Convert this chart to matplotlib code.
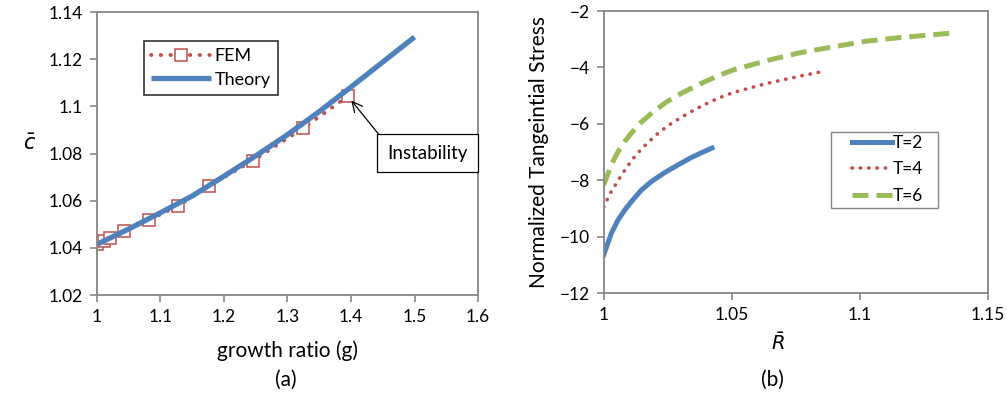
import numpy as np
import matplotlib.pyplot as plt
from matplotlib.patches import Rectangle

plt.rcParams['font.family'] = ['Lato', 'DejaVu Sans']
plt.rcParams['mathtext.fontset'] = 'dejavusans'

# (a) c-bar against growth ratio
g_theory = [1.0, 1.05, 1.1, 1.15, 1.2, 1.25, 1.3, 1.35, 1.4, 1.45, 1.5]
c_theory = [1.0415, 1.048, 1.0549, 1.062, 1.0704, 1.079, 1.088, 1.0978,
            1.1082, 1.1188, 1.1294]
g_fem = [1.0, 1.0105, 1.021, 1.043, 1.082, 1.127, 1.177, 1.245, 1.325, 1.395]
c_fem = [1.0418, 1.0428, 1.0443, 1.0471, 1.0518, 1.0577, 1.0664, 1.0769,
         1.0908, 1.1043]

# (b) normalized tangential stress against R-bar
r_t2 = [1.0, 1.003, 1.0056, 1.0082, 1.0108, 1.0147, 1.0186, 1.0238, 1.029,
        1.0337, 1.0376, 1.0423]
s_t2 = [-10.65, -9.88, -9.41, -9.06, -8.76, -8.35, -8.05, -7.73, -7.46,
        -7.22, -7.05, -6.86]
r_t4 = [1.0, 1.0013, 1.0027, 1.0043, 1.0059, 1.0071, 1.0088, 1.0105, 1.0125,
        1.0147, 1.0169, 1.019, 1.0212, 1.0238, 1.0264, 1.0285, 1.0337,
        1.0389, 1.0448, 1.0506, 1.0636, 1.0766, 1.0864]
s_t4 = [-8.96, -8.70, -8.44, -8.21, -7.97, -7.80, -7.57, -7.35, -7.12,
        -6.90, -6.70, -6.52, -6.34, -6.16, -5.99, -5.87, -5.59,
        -5.34, -5.09, -4.89, -4.57, -4.31, -4.13]
r_t6 = [1.0, 1.0017, 1.0036, 1.0056, 1.0082, 1.0108, 1.0142, 1.0194, 1.0246,
        1.0311, 1.0376, 1.0448, 1.0506, 1.0636, 1.0766, 1.0896, 1.1026,
        1.1157, 1.1287, 1.1352]
s_t6 = [-8.17, -7.76, -7.34, -6.99, -6.63, -6.33, -5.98, -5.57, -5.22,
        -4.88, -4.59, -4.29, -4.09, -3.76, -3.48, -3.27, -3.07,
        -2.94, -2.84, -2.79]

blue = '#4F81BD'
red = '#C0504D'
green = '#9BBB59'
gray = '#868686'

fig = plt.figure(figsize=(10.07, 4.01), dpi=100)
ax1 = fig.add_axes([0.0963, 0.2643, 0.3784, 0.7057])
ax2 = fig.add_axes([0.5995, 0.2693, 0.3812, 0.7032])

for ax in (ax1, ax2):
    for sp in ax.spines.values():
        sp.set_color(gray)
        sp.set_linewidth(1.3)
    ax.tick_params(direction='out', length=5, width=1.2, color=gray,
                   labelsize=12.5, pad=5)

# left panel
ax1.plot(g_fem, c_fem, linestyle=(0, (0.1, 2.4)), dash_capstyle='round',
         color=red, lw=2.8, marker='s', ms=8, mfc='white', mec=red, mew=1.1,
         label='FEM')
ax1.plot(g_theory, c_theory, color=blue, lw=3.8, solid_capstyle='butt',
         label='Theory')
ax1.set_xlim(1, 1.6)
ax1.set_ylim(1.02, 1.14)
ax1.set_xticks(np.arange(1, 1.61, 0.1))
ax1.set_xticklabels(['1', '1.1', '1.2', '1.3', '1.4', '1.5', '1.6'])
ax1.set_yticks(np.arange(1.02, 1.141, 0.02))
ax1.set_yticklabels(['1.02', '1.04', '1.06', '1.08', '1.1', '1.12', '1.14'])
ax1.set_xlabel('growth ratio (g)', fontsize=15, labelpad=11)
ax1.set_ylabel(r'$\bar{c}$', fontsize=15, rotation=0, labelpad=14)
leg1 = ax1.legend(loc='upper left', bbox_to_anchor=(0.123, 0.897),
                  borderaxespad=0, fancybox=False, fontsize=13,
                  handlelength=3.3, handletextpad=0.2, borderpad=0.4,
                  labelspacing=0.4)
leg1.get_frame().set_edgecolor('black')
leg1.get_frame().set_linewidth(1.2)

ax1.annotate('Instability', xy=(g_fem[-1], c_fem[-1]),
             xytext=(1.52, 1.0802), fontsize=13.5,
             ha='center', va='center',
             bbox=dict(boxstyle='square,pad=0.55', fc='white', ec='black',
                       lw=0.9),
             arrowprops=dict(arrowstyle='->', color='black', lw=0.9,
                             shrinkA=0, shrinkB=4, relpos=(0, 1),
                             mutation_scale=18))

# right panel
ax2.plot(r_t2, s_t2, color=blue, lw=3.6, label='T=2')
ax2.plot(r_t4, s_t4, color=red, lw=2.6, linestyle=(0, (0.1, 2.2)),
         dash_capstyle='round', label='T=4')
ax2.plot(r_t6, s_t6, color=green, lw=3.6, linestyle=(0, (3.2, 1.6)),
         label='T=6')
ax2.set_xlim(1, 1.15)
ax2.set_ylim(-12, -2)
ax2.set_xticks([1, 1.05, 1.1, 1.15])
ax2.set_xticklabels(['1', '1.05', '1.1', '1.15'])
ax2.set_yticks(np.arange(-12, -1, 2))
ax2.set_xlabel(r'$\bar{R}$', fontsize=14)
ax2.xaxis.set_label_coords(0.453, -0.135)
ax2.set_ylabel('Normalized Tangeintial Stress', fontsize=15, labelpad=8)

# legend frame drawn on its own so the side margins can be wider
ax2.add_patch(Rectangle((0.592, 0.301), 0.279, 0.270, transform=ax2.transAxes,
                        fill=False, ec=gray, lw=1.0, zorder=5))
ax2.legend(loc='upper left', bbox_to_anchor=(0.647, 0.561),
           borderaxespad=0, borderpad=0, frameon=False, fontsize=12.5,
           handlelength=2.3, handletextpad=0.05, labelspacing=0.6)

fig.text(0.284, 0.052, '(a)', fontsize=15, ha='center', va='center')
fig.text(0.767, 0.052, '(b)', fontsize=15, ha='center', va='center')

fig.savefig('out.png', dpi=100)
